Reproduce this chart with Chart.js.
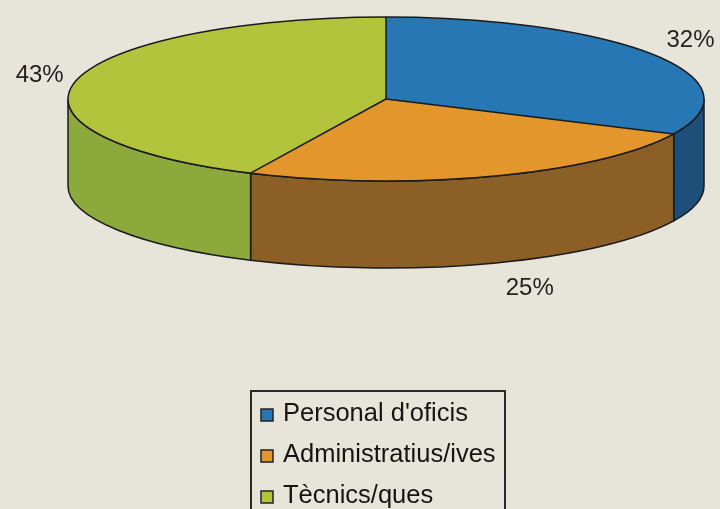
<!DOCTYPE html>
<html>
<head>
<meta charset="utf-8">
<script src="https://cdn.jsdelivr.net/npm/chart.js@4.4.0/dist/chart.umd.min.js"></script>
<style>
  html, body { margin: 0; padding: 0; background: #e7e4da; }
  #wrap { width: 720px; height: 509px; position: relative; }
</style>
</head>
<body>
<div id="wrap"><canvas id="pieChart"></canvas></div>
<script>
// Dades
const categories = ["Personal d'oficis", 'Administratius/ives', 'Tècnics/ques'];
const percentatges = [32, 25, 43];
const colorsTop = ['#2677b3', '#e3962b', '#b2c43b'];
const colorsSide = ['#1d4f7a', '#8b5f25', '#8caa3c'];

// Geometria del pastís en perspectiva
const tilt = { cx: 386, cy: 99, rx: 318, ry: 82, depth: 87 };
const FONT = '"Liberation Sans", Arial, sans-serif';

function visibleRange(a, b) {
  // part del lateral que queda de cara (angles entre 0 i PI)
  for (const k of [-2, 0, 2]) {
    const s = Math.max(a + k * Math.PI, 0);
    const e = Math.min(b + k * Math.PI, Math.PI);
    if (e > s) return [s, e];
  }
  return null;
}

const pie3d = {
  id: 'pie3d',
  beforeDatasetsDraw(chart) {
    const ctx = chart.ctx;
    const arcs = chart.getDatasetMeta(0).data;
    const { cx, cy, rx, ry, depth } = tilt;

    // laterals
    ctx.save();
    ctx.lineWidth = 1.5;
    ctx.strokeStyle = '#1a1a1a';
    arcs.forEach((arc, i) => {
      const r = visibleRange(arc.startAngle, arc.endAngle);
      if (!r) return;
      const [s, e] = r;
      ctx.beginPath();
      ctx.ellipse(cx, cy, rx, ry, 0, s, e, false);
      ctx.lineTo(cx + rx * Math.cos(e), cy + ry * Math.sin(e) + depth);
      ctx.ellipse(cx, cy + depth, rx, ry, 0, e, s, true);
      ctx.closePath();
      ctx.fillStyle = colorsSide[i];
      ctx.fill();
      ctx.stroke();
    });
    ctx.restore();

    // la cara superior la dibuixa Chart.js, aixafada
    const a0 = arcs[0];
    ctx.save();
    ctx.translate(cx, cy);
    ctx.scale(rx / a0.outerRadius, ry / a0.outerRadius);
    ctx.translate(-a0.x, -a0.y);
  },
  afterDatasetsDraw(chart) {
    const ctx = chart.ctx;
    ctx.restore();
    const arcs = chart.getDatasetMeta(0).data;
    const { cx, cy, rx, ry, depth } = tilt;

    ctx.save();
    ctx.lineWidth = 1.5;
    ctx.strokeStyle = '#1a1a1a';
    ctx.beginPath();
    ctx.ellipse(cx, cy, rx, ry, 0, 0, Math.PI * 2);
    ctx.stroke();
    arcs.forEach(arc => {
      ctx.beginPath();
      ctx.moveTo(cx, cy);
      ctx.lineTo(cx + rx * Math.cos(arc.startAngle), cy + ry * Math.sin(arc.startAngle));
      ctx.stroke();
    });

    // percentatges
    const total = percentatges.reduce((a, b) => a + b, 0);
    ctx.fillStyle = '#222';
    ctx.font = '24px ' + FONT;
    ctx.textAlign = 'center';
    ctx.textBaseline = 'middle';
    arcs.forEach((arc, i) => {
      const m = (arc.startAngle + arc.endAngle) / 2;
      const c = Math.cos(m), s = Math.sin(m);
      const px = cx + rx * c;
      const py = cy + ry * s + (s > 0 ? depth : 0);
      const x = px + 36 * Math.sign(c);
      const y = py + 27 * s;
      ctx.fillText(Math.round(percentatges[i] / total * 100) + '%', x, y);
    });
    ctx.restore();
  },
  afterDraw(chart) {
    // llegenda amb marc
    const ctx = chart.ctx;
    ctx.save();
    ctx.lineWidth = 2;
    ctx.strokeStyle = '#2a2a2a';
    ctx.strokeRect(251, 391, 254, 130);
    ctx.font = '25.5px ' + FONT;
    ctx.textAlign = 'left';
    ctx.textBaseline = 'alphabetic';
    chart.data.labels.forEach((lab, i) => {
      const base = 421 + i * 41;
      ctx.fillStyle = colorsTop[i];
      ctx.fillRect(261, base - 12, 12, 12);
      ctx.lineWidth = 1.5;
      ctx.strokeStyle = '#222';
      ctx.strokeRect(261, base - 12, 12, 12);
      ctx.fillStyle = '#151515';
      ctx.fillText(lab, 283, base);
    });
    ctx.restore();
  }
};

const ctx = document.getElementById('pieChart').getContext('2d');
const pieChart = new Chart(ctx, {
  type: 'pie',
  data: {
    labels: categories,
    datasets: [{
      data: percentatges,
      backgroundColor: colorsTop,
      borderWidth: 0
    }]
  },
  options: {
    responsive: true,
    maintainAspectRatio: false,
    animation: false,
    events: [],
    plugins: {
      legend: { display: false },
      tooltip: { enabled: false }
    }
  },
  plugins: [pie3d]
});
</script>
</body>
</html>
